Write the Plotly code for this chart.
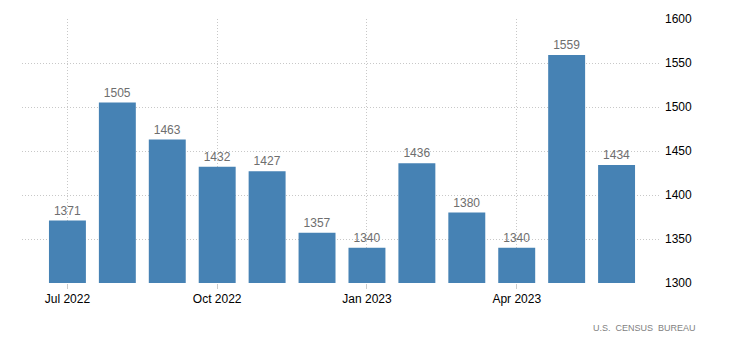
import plotly.graph_objects as go

months = ["Jul 2022", "Aug 2022", "Sep 2022", "Oct 2022", "Nov 2022", "Dec 2022",
          "Jan 2023", "Feb 2023", "Mar 2023", "Apr 2023", "May 2023", "Jun 2023"]
values = [1371, 1505, 1463, 1432, 1427, 1357, 1340, 1436, 1380, 1340, 1559, 1434]
tick_labels = ["Jul 2022", "Oct 2022", "Jan 2023", "Apr 2023"]
y_ticks = [1300, 1350, 1400, 1450, 1500, 1550, 1600]

x_idx = list(range(len(months)))
tick_pos = [months.index(t) for t in tick_labels]

fig = go.Figure(go.Bar(
    x=x_idx, y=values, width=0.74,
    marker=dict(color="#4682B4", line=dict(width=0)),
    text=[str(v) for v in values], textposition="outside",
    textfont=dict(family="Liberation Sans, Arial", size=12, color="#6e6e6e"),
    cliponaxis=False,
    hovertext=months,
))

fig.update_layout(
    width=730, height=351,
    margin=dict(l=22, r=70, t=19, b=68),
    plot_bgcolor="white", paper_bgcolor="white",
    showlegend=False,
    font=dict(family="Liberation Sans, Arial", size=12, color="#000"),
    xaxis=dict(
        range=[-0.91, 11.87],
        tickmode="array", tickvals=tick_pos, ticktext=tick_labels,
        showgrid=True, gridcolor="#c8c8c8", griddash="1px,2px", gridwidth=1,
        ticks="outside", ticklen=5, tickcolor="#cccccc",
        showline=False, zeroline=False,
        tickfont=dict(size=12, color="#000"),
    ),
    yaxis=dict(
        range=[1300, 1600], side="right",
        tickmode="array", tickvals=y_ticks,
        showgrid=True, gridcolor="#c8c8c8", griddash="1px,2px", gridwidth=1,
        zeroline=False, showline=False, ticks="",
        ticklabelstandoff=4,
        tickfont=dict(size=12, color="#000"),
    ),
    bargap=0.26,
    annotations=[dict(
        text="U.S.  CENSUS  BUREAU", xref="paper", yref="paper",
        x=1.0, y=-0.145, xanchor="right", yanchor="top", showarrow=False,
        xshift=38,
        font=dict(size=9, color="#7f7f7f", family="Liberation Sans, Arial"),
    )],
)

fig.write_html("out.html")
